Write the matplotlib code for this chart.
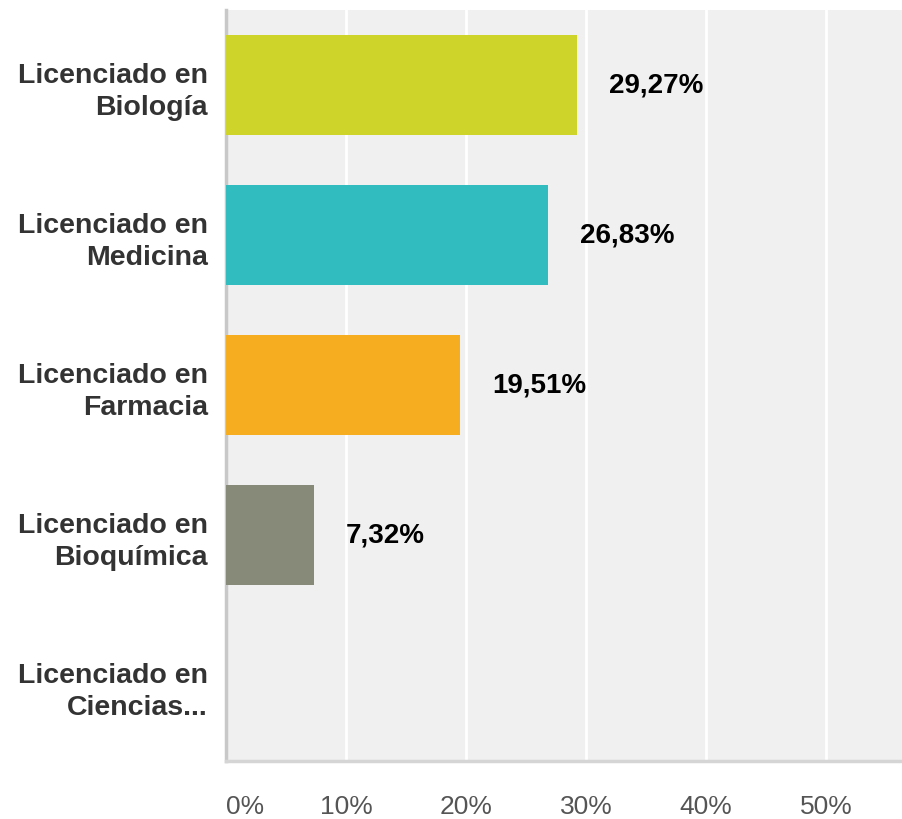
import matplotlib.pyplot as plt

# Datos
categorias = ["Licenciado en\nBiología", "Licenciado en\nMedicina", "Licenciado en\nFarmacia",
              "Licenciado en\nBioquímica", "Licenciado en\nCiencias..."]
valores = [29.27, 26.83, 19.51, 7.32, 0.0]
etiquetas = ["29,27%", "26,83%", "19,51%", "7,32%", ""]
colores = ["#cfd42a", "#31bcbf", "#f6ad1f", "#878a78", "#cccccc"]
ticks_x = [0, 10, 20, 30, 40, 50]

plt.rcParams['font.family'] = ['Liberation Sans', 'DejaVu Sans']

fig = plt.figure(figsize=(9.03, 8.2), dpi=100)
ax = fig.add_axes([0.2503, 0.0707, 0.7497, 0.916])
ax.set_facecolor("#f0f0f0")

pos = list(range(len(categorias)))
ax.barh(pos, valores, height=0.667, color=colores, zorder=3)

for p, v, t in zip(pos, valores, etiquetas):
    if t:
        ax.annotate(t, (v, p), xytext=(23, 0), textcoords="offset points",
                    va="center", ha="left", fontsize=20, fontweight="bold", color="black")

ax.set_xlim(0, 56.4)
ax.set_ylim(4.51, -0.5)
ax.set_xticks(ticks_x)
ax.set_xticklabels([f"{t}%" for t in ticks_x])
ax.xaxis.grid(True, color="white", linewidth=2, zorder=1)
ax.set_axisbelow(True)

ax.set_yticks(pos)
ax.set_yticklabels(categorias, fontsize=20.5, fontweight="bold", color="#333333", linespacing=1.3)
ax.tick_params(axis="y", length=0, pad=13)
ax.tick_params(axis="x", length=0, pad=24, labelsize=19, labelcolor="#555555")
ax.get_xticklabels()[0].set_ha("left")

for lado in ["top", "right"]:
    ax.spines[lado].set_visible(False)
ax.spines["left"].set_color("#c8c8c8")
ax.spines["left"].set_linewidth(2.5)
ax.spines["bottom"].set_color("#d5d5d5")
ax.spines["bottom"].set_linewidth(2.5)

fig.savefig("out.png", dpi=100)
